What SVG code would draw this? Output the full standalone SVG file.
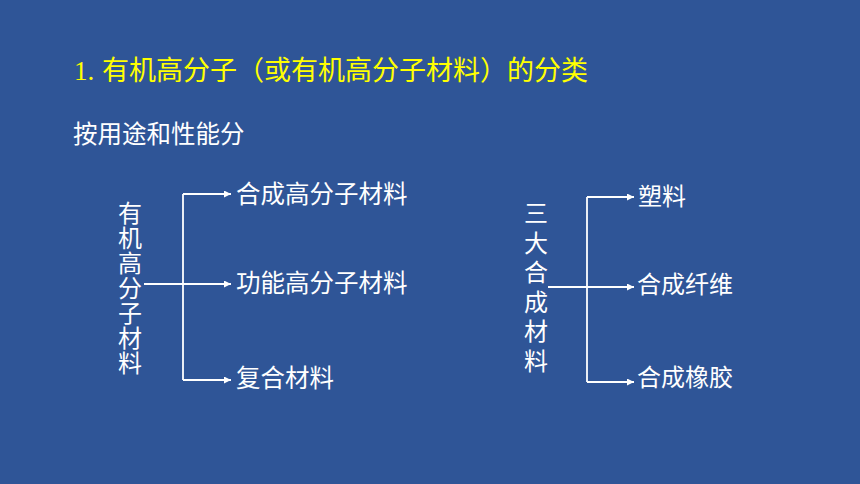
<svg xmlns="http://www.w3.org/2000/svg" width="860" height="484" viewBox="0 0 860 484">
<defs>
<style>
.cjk{font-family:"Noto Sans CJK SC","Noto Sans",sans-serif;}
.w{fill:#FFFFFF;}
.ln{stroke:#FFFFFF;stroke-width:1.8;fill:none;}
.vt{writing-mode:vertical-rl;text-orientation:upright;}
</style>
<marker id="ah" viewBox="0 0 10 10" refX="10" refY="5" markerWidth="8" markerHeight="7" markerUnits="userSpaceOnUse" orient="auto">
<path d="M0,0 L10,5 L0,10 z" fill="#FFFFFF"/>
</marker>
</defs>
<rect x="0" y="0" width="860" height="484" fill="#2F5597"/>
<g id="title">
<text y="80" font-size="27" fill="#FFFF00"><tspan x="74" font-family="'Liberation Serif',serif">1.</tspan><tspan x="102" class="cjk">有机高分子（或有机高分子材料）的分类</tspan></text>
</g>
<g id="subtitle">
<text x="73" y="143" font-size="24.5" class="cjk w">按用途和性能分</text>
</g>
<g id="connectors">
<line class="ln" x1="144" y1="284" x2="231" y2="284" marker-end="url(#ah)"/>
<line class="ln" x1="183" y1="194" x2="183" y2="380"/>
<line class="ln" x1="183" y1="194" x2="231" y2="194" marker-end="url(#ah)"/>
<line class="ln" x1="183" y1="380" x2="231" y2="380" marker-end="url(#ah)"/>
<line class="ln" x1="548" y1="287" x2="634" y2="287" marker-end="url(#ah)"/>
<line class="ln" x1="587" y1="197" x2="587" y2="382"/>
<line class="ln" x1="587" y1="197" x2="634" y2="197" marker-end="url(#ah)"/>
<line class="ln" x1="587" y1="382" x2="634" y2="382" marker-end="url(#ah)"/>
</g>
<g id="node-organic">
<text x="130" y="201" font-size="24" letter-spacing="1" class="cjk w vt">有机高分子材料</text>
</g>
<g id="node-synthetic-polymer"><text x="236" y="203" font-size="24.5" class="cjk w">合成高分子材料</text></g>
<g id="node-functional-polymer"><text x="236" y="292" font-size="24.5" class="cjk w">功能高分子材料</text></g>
<g id="node-composite"><text x="236" y="387" font-size="24.5" class="cjk w">复合材料</text></g>
<g id="node-three">
<text x="536" y="201" font-size="24" letter-spacing="5.5" class="cjk w vt">三大合成材料</text>
</g>
<g id="node-plastic"><text x="638" y="205" font-size="24" class="cjk w">塑料</text></g>
<g id="node-fiber"><text x="637" y="293" font-size="24" class="cjk w">合成纤维</text></g>
<g id="node-rubber"><text x="637" y="386" font-size="24" class="cjk w">合成橡胶</text></g>
</svg>
